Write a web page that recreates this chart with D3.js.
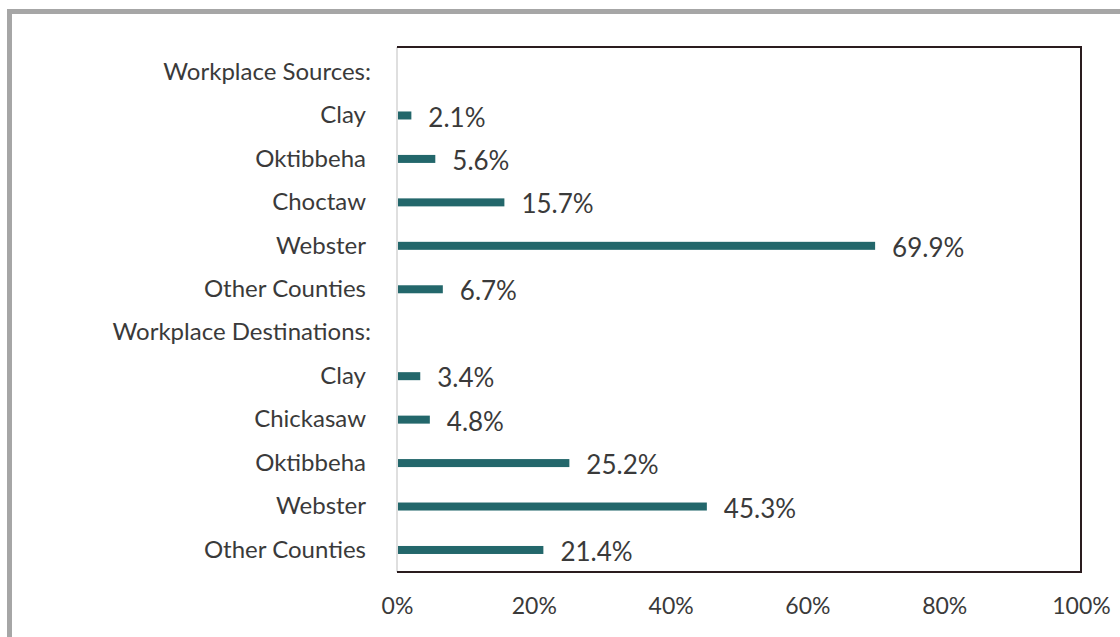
<!DOCTYPE html>
<html>
<head>
<meta charset="utf-8">
<script src="https://cdn.jsdelivr.net/npm/d3@7/dist/d3.min.js"></script>
<style>
  html, body { margin: 0; padding: 0; background: #fff; }
  svg { display: block; }
</style>
</head>
<body>
<svg id="chart" width="1120" height="637"></svg>
<script>
// ---- data ----
const categories = [
  "Workplace Sources:", "Clay", "Oktibbeha", "Choctaw", "Webster", "Other Counties",
  "Workplace Destinations:", "Clay", "Chickasaw", "Oktibbeha", "Webster", "Other Counties"
];
const values = [null, 2.1, 5.6, 15.7, 69.9, 6.7, null, 3.4, 4.8, 25.2, 45.3, 21.4];
const tickValues = [0, 20, 40, 60, 80, 100];
const tickLabels = ["0%", "20%", "40%", "60%", "80%", "100%"];

const rows = categories.map((c, i) => ({ id: i, label: c, value: values[i] }));

const svg = d3.select("#chart");
const W = 1120, H = 637;
const plot = { left: 397, right: 1081, top: 47, bottom: 572 };
const font = "Lato, 'Open Sans', sans-serif";
const textColor = "#3a3a3a";
const barColor = "#23676b";

// outer frame
svg.append("rect").attr("width", W).attr("height", H).attr("fill", "#fff");
svg.append("rect")
  .attr("x", 9.5).attr("y", 11.5).attr("width", W + 20).attr("height", H + 20)
  .attr("fill", "none").attr("stroke", "#a6a6a6").attr("stroke-width", 5);

const x = d3.scaleLinear().domain([0, 100]).range([plot.left, plot.right]);
const y = d3.scaleBand().domain(rows.map(d => d.id)).range([50.3, 571.7]).padding(0);

// plot box: light left axis, dark other sides
svg.append("line")
  .attr("x1", plot.left).attr("x2", plot.left).attr("y1", plot.top).attr("y2", plot.bottom)
  .attr("stroke", "#d4d4d4").attr("stroke-width", 1.5);
svg.append("path")
  .attr("d", `M${plot.left},${plot.top}H${plot.right}V${plot.bottom}H${plot.left}`)
  .attr("fill", "none").attr("stroke", "#2a1c1e").attr("stroke-width", 2);

// x axis
const xAxis = d3.axisBottom(x).tickValues(tickValues)
  .tickFormat((d, i) => tickLabels[i]).tickSize(0).tickPadding(0);
const gx = svg.append("g").attr("transform", `translate(0,${plot.bottom + 34})`).call(xAxis);
gx.select(".domain").remove();
gx.selectAll("text")
  .attr("font-family", font).attr("font-size", 23).attr("fill", textColor)
  .attr("dy", "0.35em");

// y labels
const yAxis = d3.axisLeft(y).tickFormat(id => rows[id].label).tickSize(0).tickPadding(0);
const gy = svg.append("g").attr("transform", `translate(${plot.left - 31},0)`).call(yAxis);
gy.select(".domain").remove();
gy.selectAll("text")
  .attr("font-family", font).attr("font-size", 24).attr("fill", textColor)
  .attr("dx", d => rows[d].value === null ? 5 : 0);

// bars
const barH = 8;
const data = rows.filter(d => d.value !== null);
svg.append("g").selectAll("rect").data(data).join("rect")
  .attr("x", x(0) + 1)
  .attr("y", d => y(d.id) + y.bandwidth() / 2 - barH / 2)
  .attr("width", d => x(d.value) - x(0) - 1)
  .attr("height", barH)
  .attr("fill", barColor);

// value labels
svg.append("g").selectAll("text").data(data).join("text")
  .attr("x", d => x(d.value) + 17)
  .attr("y", d => y(d.id) + y.bandwidth() / 2 + 2)
  .attr("dy", "0.35em")
  .attr("font-family", font).attr("font-size", 26).attr("fill", textColor)
  .text(d => d.value.toFixed(1) + "%");
</script>
</body>
</html>
